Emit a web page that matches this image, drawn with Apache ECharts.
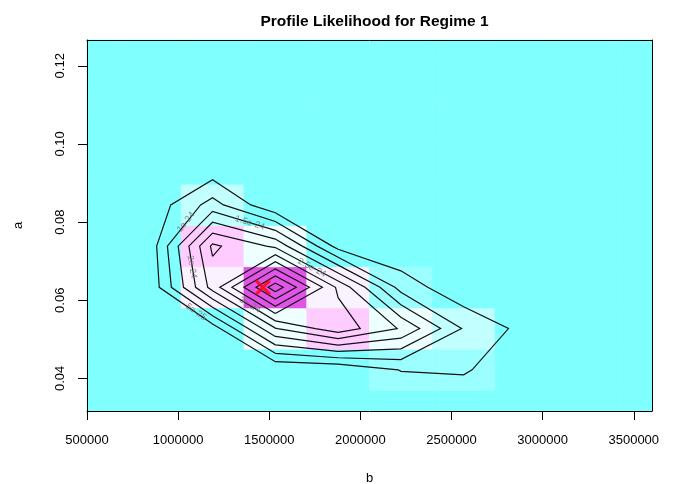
<!DOCTYPE html>
<html><head><meta charset="utf-8">
<script src="https://cdn.jsdelivr.net/npm/echarts@6/dist/echarts.min.js"></script>
<style>html,body{margin:0;padding:0;background:#fff}#c{width:680px;height:484px}</style>
</head><body><div id="c"></div>
<script>
const chartTitle = 'Profile Likelihood for Regime 1';
const xName = 'b';
const yName = 'a';
// grid of b (x) and a (y) values at which the profile likelihood was evaluated
const bGrid = [500000, 844444, 1188889, 1533333, 1877778, 2222222, 2566667, 2911111, 3255556, 3600000];
const aGrid = [0.03165, 0.0422, 0.05275, 0.0633, 0.07385, 0.0844, 0.09495, 0.1055, 0.11605, 0.1266];
// likelihood, in units of 1e-25; one row per a value (bottom to top), one column per b value
const zRow0 = [0, 0, 0, 0, 0, 0, 0, 0, 0, 0];
const zRow1 = [0, 0, 0.3, 0.2, 0.5, 5.2, 5.7, 0.5, 0, 0];
const zRow2 = [0, 0.3, 2.3, 24.7, 33, 24.5, 9.5, 3.2, 0.3, 0];
const zRow3 = [0, 1.1, 27, 53, 29, 8, 1, 0.2, 0, 0];
const zRow4 = [0, 1.8, 31, 24, 3, 0.5, 0, 0, 0, 0];
const zRow5 = [0, 1.5, 12, 0.5, 0, 0, 0, 0, 0, 0];
const zRow6 = [0, 0.2, 0.5, 0, 0, 0, 0, 0, 0, 0];
const zRow7 = [0, 0, 0, 0, 0, 0, 0, 0, 0, 0];
const zRow8 = [0, 0, 0, 0, 0, 0, 0, 0, 0, 0];
const zRow9 = [0, 0, 0, 0, 0, 0, 0, 0, 0, 0];
const contourLevels = [5, 10, 15, 20, 25, 30, 35, 40, 45, 50];
const colorBreaks = [4.4, 8.8, 13.2, 17.7, 22.1, 26.5, 30.9, 35.3, 39.8, 44.2, 48.6];
const colorSteps = ['#80FFFF', '#9CFFFF', '#C2FFFF', '#CCFFFF', '#DCFFFF', '#EEFFFF',
                    '#FAF2FF', '#FFCCFF', '#F8B0F8', '#F090F0', '#E870EC', '#E055E6'];
// contour labels: text, b, a, rotation (deg)
const labelText = ['5e-25', '1e-24', '1.5e-24', '2e-24', '2.5e-24', '3e-24'];
const labelB = [1098000, 1043000, 1394000, 1076000, 1734000, 1394000];
const labelA = [0.0570, 0.0800, 0.0798, 0.0685, 0.0683, 0.0588];
const labelRot = [-35, 51, -17, -80, -28, -31];
const mle = [1465000, 0.0633];
const xTicks = [500000, 1000000, 1500000, 2000000, 2500000, 3000000, 3500000];
const yTicks = [0.04, 0.06, 0.08, 0.10, 0.12];

const Z = [zRow0, zRow1, zRow2, zRow3, zRow4, zRow5, zRow6, zRow7, zRow8, zRow9];
const db = bGrid[1] - bGrid[0], da = aGrid[1] - aGrid[0];

function colorFor(v) {
  let k = 0;
  while (k < colorBreaks.length && v >= colorBreaks[k]) k++;
  return colorSteps[k];
}

const cells = [];
for (let j = 0; j < aGrid.length; j++)
  for (let i = 0; i < bGrid.length; i++) cells.push([bGrid[i], aGrid[j], Z[j][i]]);

// marching squares on the grid (linear interpolation along cell edges)
function edgePt(p, q, zp, zq, L) {
  if (p[0] > q[0] || p[1] > q[1]) { const t = p; p = q; q = t; const tz = zp; zp = zq; zq = tz; }
  const t = (L - zp) / (zq - zp);
  return [p[0] + t * (q[0] - p[0]), p[1] + t * (q[1] - p[1])];
}
function dist(p, q) { return Math.hypot((p[0] - q[0]) / db * 1.5, (p[1] - q[1]) / da); }
function segmentsFor(L) {
  const segs = [];
  for (let j = 0; j < aGrid.length - 1; j++) {
    for (let i = 0; i < bGrid.length - 1; i++) {
      const c = [[bGrid[i], aGrid[j]], [bGrid[i + 1], aGrid[j]], [bGrid[i + 1], aGrid[j + 1]], [bGrid[i], aGrid[j + 1]]];
      const v = [Z[j][i], Z[j][i + 1], Z[j + 1][i + 1], Z[j + 1][i]];
      const pts = [];
      for (let e = 0; e < 4; e++) {
        const a = e, b = (e + 1) % 4;
        pts.push(((v[a] >= L) !== (v[b] >= L)) ? edgePt(c[a], c[b], v[a], v[b], L) : null);
      }
      const found = pts.filter(p => p);
      if (found.length === 2) segs.push(found);
      else if (found.length === 4) {
        const o1 = dist(pts[0], pts[1]) + dist(pts[2], pts[3]);
        const o2 = dist(pts[0], pts[3]) + dist(pts[1], pts[2]);
        if (o1 <= o2) { segs.push([pts[0], pts[1]]); segs.push([pts[2], pts[3]]); }
        else { segs.push([pts[0], pts[3]]); segs.push([pts[1], pts[2]]); }
      }
    }
  }
  return segs;
}
function chain(segs) {
  const key = p => p[0].toFixed(1) + ',' + p[1].toFixed(7);
  const adj = new Map();
  segs.forEach((s, k) => s.forEach(p => { const kk = key(p); if (!adj.has(kk)) adj.set(kk, []); adj.get(kk).push(k); }));
  const used = segs.map(() => false);
  const out = [];
  function next(p) {
    const list = adj.get(key(p)) || [];
    for (const k of list) if (!used[k]) return k;
    return -1;
  }
  segs.forEach((s, k) => {
    if (used[k]) return;
    used[k] = true;
    const line = [s[0], s[1]];
    for (;;) {
      const last = line[line.length - 1], n = next(last);
      if (n < 0) break;
      used[n] = true;
      const sg = segs[n];
      line.push(key(sg[0]) === key(last) ? sg[1] : sg[0]);
    }
    for (;;) {
      const first = line[0], n = next(first);
      if (n < 0) break;
      used[n] = true;
      const sg = segs[n];
      line.unshift(key(sg[0]) === key(first) ? sg[1] : sg[0]);
    }
    out.push(line);
  });
  return out;
}
const contourLines = [];
contourLevels.forEach(L => chain(segmentsFor(L)).forEach(l => contourLines.push({ coords: l })));

const labelData = labelText.map((t, k) => ({
  value: [labelB[k], labelA[k]], name: t, label: { rotate: labelRot[k] }
}));

const font = 'Liberation Sans, Arial, Helvetica, sans-serif';
const chart = echarts.init(document.getElementById('c'), null, { renderer: 'canvas' });
chart.setOption({
  backgroundColor: '#fff',
  animation: false,
  title: {
    text: chartTitle, left: 369.5, top: 9, textAlign: 'center',
    textStyle: { fontFamily: font, fontWeight: 'bold', fontSize: 15.5, color: '#000' }
  },
  grid: { left: 87, right: 28, top: 40, bottom: 73, show: false, containLabel: false, outerBoundsMode: 'none' },
  xAxis: [{
    type: 'value', min: 500000, max: 3600000, interval: 500000, position: 'bottom', z: 10,
    name: xName, nameLocation: 'middle', nameGap: 61,
    nameTextStyle: { fontFamily: font, fontSize: 13, color: '#000' },
    axisLine: { show: true, onZero: false, lineStyle: { color: '#000', width: 1 } },
    axisTick: { show: true, length: 9, customValues: xTicks, lineStyle: { color: '#000' } },
    axisLabel: { customValues: xTicks, margin: 23, formatter: v => String(v), fontFamily: font, fontSize: 13, color: '#000' },
    splitLine: { show: false }
  }, {
    type: 'value', min: 500000, max: 3600000, position: 'top', z: 10,
    axisLine: { show: true, onZero: false, lineStyle: { color: '#000', width: 1 } },
    axisTick: { show: false }, axisLabel: { show: false }, splitLine: { show: false }
  }],
  yAxis: [{
    type: 'value', min: aGrid[0], max: aGrid[aGrid.length - 1], position: 'left', z: 10,
    name: yName, nameLocation: 'middle', nameGap: 62,
    nameTextStyle: { fontFamily: font, fontSize: 13, color: '#000' },
    axisLine: { show: true, onZero: false, lineStyle: { color: '#000', width: 1 } },
    axisTick: { show: true, length: 9, customValues: yTicks, lineStyle: { color: '#000' } },
    axisLabel: { customValues: yTicks, rotate: 90, margin: 20, formatter: v => v.toFixed(2), fontFamily: font, fontSize: 13, color: '#000' },
    splitLine: { show: false }
  }, {
    type: 'value', min: aGrid[0], max: aGrid[aGrid.length - 1], position: 'right', z: 10,
    axisLine: { show: true, onZero: false, lineStyle: { color: '#000', width: 1 } },
    axisTick: { show: false }, axisLabel: { show: false }, splitLine: { show: false }
  }],
  series: [{
    type: 'custom', silent: true, z: 1,
    data: cells,
    renderItem: function (params, api) {
      const b = api.value(0), a = api.value(1), v = api.value(2);
      const p1 = api.coord([b - db / 2, a + da / 2]);
      const p2 = api.coord([b + db / 2, a - da / 2]);
      const cs = params.coordSys;
      const r = echarts.graphic.clipRectByRect(
        { x: p1[0], y: p1[1], width: p2[0] - p1[0], height: p2[1] - p1[1] },
        { x: cs.x, y: cs.y, width: cs.width, height: cs.height });
      if (!r) return;
      const col = colorFor(v);
      return { type: 'rect', shape: r, style: { fill: col, stroke: col, lineWidth: 0.6 } };
    }
  }, {
    type: 'lines', coordinateSystem: 'cartesian2d', polyline: true, silent: true, z: 3,
    data: contourLines,
    lineStyle: { color: '#111', width: 1.2, opacity: 1 }
  }, {
    type: 'scatter', silent: true, z: 4, symbolSize: 0,
    data: labelData,
    label: { show: true, position: 'inside', formatter: p => p.name, fontFamily: font, fontSize: 9, color: '#6a6a6a' }
  }, {
    type: 'scatter', silent: true, z: 5,
    data: [mle],
    symbol: 'path://M0,0L10,10M10,0L0,10', symbolSize: 14,
    itemStyle: { color: 'rgba(0,0,0,0)', borderColor: '#f00', borderWidth: 3 }
  }]
});
</script>
</body></html>
